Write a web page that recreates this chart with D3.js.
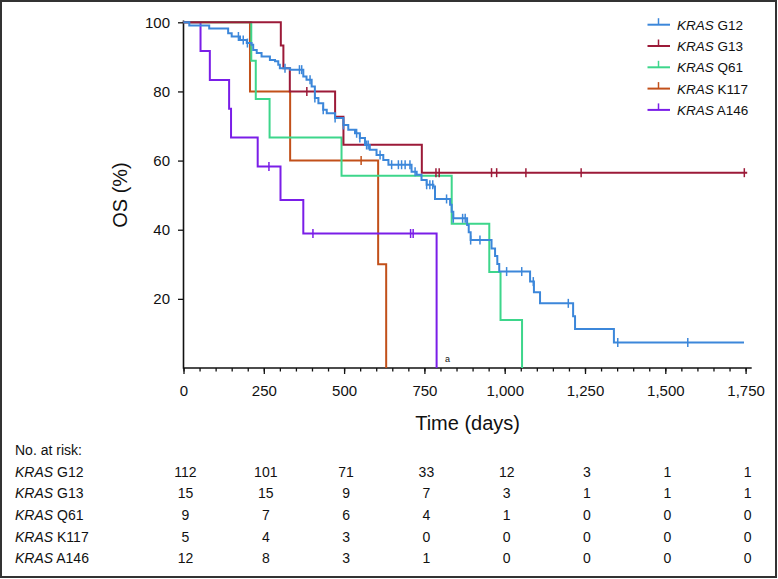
<!DOCTYPE html>
<html><head><meta charset="utf-8">
<script src="https://cdn.jsdelivr.net/npm/d3@7"></script>
<style>
body{margin:0;background:#fff}
svg{display:block}
text{font-family:"Liberation Sans",Arial,Helvetica,sans-serif;fill:#111}
</style>
</head><body>
<svg id="chart" width="778" height="579"></svg>
<script>
// ---- data ----
const groups = ["G12", "G13", "Q61", "K117", "A146"];
const colors = ["#3c87da", "#9c1a38", "#3dd68b", "#c2501a", "#7a1ee8"];

// step points [time (days), OS %]
const g12Steps = [[0,100],[18,99.1],[80,98.2],[139,96.8],[150,95.9],[176,94.9],[197,94.0],[212,93.5],[217,92.0],[228,91.1],[243,90.1],[269,89.1],[285,88.7],[295,87.7],[300,86.7],[332,86.3],[373,84.3],[383,83.4],[399,81.4],[409,78.1],[420,76.6],[435,74.7],[446,73.7],[472,72.3],[498,70.3],[513,68.9],[534,67.9],[549,66.5],[565,64.5],[580,63.1],[601,61.6],[622,60.2],[638,58.8],[710,56.8],[726,55.9],[741,54.4],[757,53.0],[778,52.5],[783,48.9],[830,47.2],[835,45.2],[840,43.3],[883,41.4],[888,39.3],[894,37.0],[959,34.6],[970,32.4],[977,30.1],[983,27.9],[1079,25.0],[1091,21.9],[1110,18.7],[1213,15.0],[1219,11.3],[1340,7.4]];
const g12End = 1745;
const g12Censor = [171,186,199,316,361,368,394,409,435,472,498,539,549,570,575,612,648,669,679,690,705,721,757,767,776,819,840,869,877,894,923,1006,1053,1089,1198,1352,1570];

const g13Steps = [[0,100],[303,93.3],[311,86.7],[331,80],[472,72.7],[498,64.6],[742,56.5]];
const g13End = 1755;
const g13Censor = [384,786,796,959,975,1066,1238,1746];

const q61Steps = [[0,100],[211,88.9],[225,77.8],[268,66.7],[492,55.6],[835,41.7],[952,27.8],[987,13.9],[1054,0]];
const q61End = 1054;
const q61Censor = [];

const k117Steps = [[0,100],[207,80],[332,60],[606,30],[631,0]];
const k117End = 631;
const k117Censor = [553];

const a146Steps = [[0,100],[53,91.7],[82,83.3],[142,75],[148,66.7],[231,58.3],[302,48.6],[373,38.9],[788,0]];
const a146End = 788;
const a146Censor = [266,403,707,715];

const xTickValues = [0,250,500,750,1000,1250,1500,1750];
const yTickValues = [20,40,60,80,100];
const riskTimes = [0,250,500,750,1000,1250,1500,1750];
const riskG12 = [112,101,71,33,12,3,1,1];
const riskG13 = [15,15,9,7,3,1,1,1];
const riskQ61 = [9,7,6,4,1,0,0,0];
const riskK117 = [5,4,3,0,0,0,0,0];
const riskA146 = [12,8,3,1,0,0,0,0];

const series = [
  {name:"G12", steps:g12Steps, end:g12End, censor:g12Censor, risk:riskG12, color:colors[0]},
  {name:"G13", steps:g13Steps, end:g13End, censor:g13Censor, risk:riskG13, color:colors[1]},
  {name:"Q61", steps:q61Steps, end:q61End, censor:q61Censor, risk:riskQ61, color:colors[2]},
  {name:"K117", steps:k117Steps, end:k117End, censor:k117Censor, risk:riskK117, color:colors[3]},
  {name:"A146", steps:a146Steps, end:a146End, censor:a146Censor, risk:riskA146, color:colors[4]}
];

// ---- drawing ----
const svg = d3.select("#chart");
const x = d3.scaleLinear().domain([0,1750]).range([183.5,745.6]);
const y = d3.scaleLinear().domain([0,100]).range([368,22.3]);

// frame
svg.append("rect").attr("x",1).attr("y",1).attr("width",775).attr("height",576)
  .attr("fill","none").attr("stroke","#333").attr("stroke-width",2);

// x axis
const xAxisG = svg.append("g").attr("transform","translate(0,368)");
xAxisG.call(d3.axisBottom(x).tickValues(d3.range(0,1751,50)).tickSize(3.5).tickFormat("").tickSizeOuter(0))
  .call(g=>g.select(".domain").remove());
xAxisG.append("g").call(d3.axisBottom(x).tickValues(xTickValues).tickSize(6).tickPadding(11).tickFormat(d3.format(",")).tickSizeOuter(0))
  .call(g=>g.select(".domain").remove())
  .call(g=>g.selectAll("text").attr("font-size",15).attr("fill","#111").style("font-family","'Liberation Sans',Arial,sans-serif"));
xAxisG.selectAll("line").attr("stroke","#111").attr("stroke-width",1.3);
svg.append("line").attr("x1",x(0)).attr("x2",751.7).attr("y1",368).attr("y2",368)
  .attr("stroke","#111").attr("stroke-width",1.6);

// y axis
const yAxisG = svg.append("g").attr("transform","translate("+x(0)+",0)");
yAxisG.call(d3.axisLeft(y).tickValues(yTickValues).tickSize(5.5).tickPadding(8).tickSizeOuter(0))
  .call(g=>g.select(".domain").remove())
  .call(g=>g.selectAll("text").attr("font-size",15).attr("fill","#111").style("font-family","'Liberation Sans',Arial,sans-serif"))
  .call(g=>g.selectAll("line").attr("stroke","#111").attr("stroke-width",1.3));
svg.append("line").attr("x1",x(0)).attr("x2",x(0)).attr("y1",20.5).attr("y2",368.8)
  .attr("stroke","#111").attr("stroke-width",1.6);

// axis titles
svg.append("text").attr("x",(x(0)+751.7)/2).attr("y",430).attr("text-anchor","middle")
  .attr("font-size",20).text("Time (days)");
svg.append("text").attr("transform","translate(127,195) rotate(-90)").attr("text-anchor","middle")
  .attr("font-size",20).text("OS (%)");

// curves
const line = d3.line().x(d=>x(d[0])).y(d=>y(d[1])).curve(d3.curveStepAfter);
function survAt(steps,t){let s=steps[0][1];for(const p of steps){if(p[0]<=t)s=p[1];}return s;}
const drawOrder = [3,4,2,1,0];
drawOrder.forEach(i=>{
  const s = series[i];
  const pts = s.steps.slice();
  const last = pts[pts.length-1];
  if (last[0] < s.end) pts.push([s.end,last[1]]);
  svg.append("path").attr("d",line(pts)).attr("fill","none")
    .attr("stroke",s.color).attr("stroke-width",2);
  svg.append("g").selectAll("line").data(s.censor).join("line")
    .attr("x1",d=>x(d)).attr("x2",d=>x(d))
    .attr("y1",d=>y(survAt(s.steps,d))-4.5).attr("y2",d=>y(survAt(s.steps,d))+4.5)
    .attr("stroke",s.color).attr("stroke-width",1.5);
});

// footnote mark
svg.append("text").attr("x",445).attr("y",362).attr("font-size",9).text("a");

// legend
series.forEach((s,i)=>{
  const ly = 24.7 + i*21.3;
  const g = svg.append("g");
  g.append("line").attr("x1",647.5).attr("x2",670).attr("y1",ly).attr("y2",ly)
    .attr("stroke",s.color).attr("stroke-width",2);
  g.append("line").attr("x1",658.5).attr("x2",658.5).attr("y1",ly-6.5).attr("y2",ly)
    .attr("stroke",s.color).attr("stroke-width",1.5);
  const t = g.append("text").attr("x",677).attr("y",ly+5).attr("font-size",13.5);
  t.append("tspan").attr("font-style","italic").text("KRAS");
  t.append("tspan").text(" "+s.name);
});

// risk table
svg.append("text").attr("x",15).attr("y",455).attr("font-size",14).text("No. at risk:");
series.forEach((s,i)=>{
  const ry = 476.7 + i*21.65;
  const t = svg.append("text").attr("x",15).attr("y",ry).attr("font-size",14);
  t.append("tspan").attr("font-style","italic").text("KRAS");
  t.append("tspan").text(" "+s.name);
  svg.append("g").selectAll("text").data(s.risk).join("text")
    .attr("x",(d,j)=>x(riskTimes[j])+2).attr("y",ry).attr("text-anchor","middle")
    .attr("font-size",14).text(d=>d);
});
</script>
</body></html>
